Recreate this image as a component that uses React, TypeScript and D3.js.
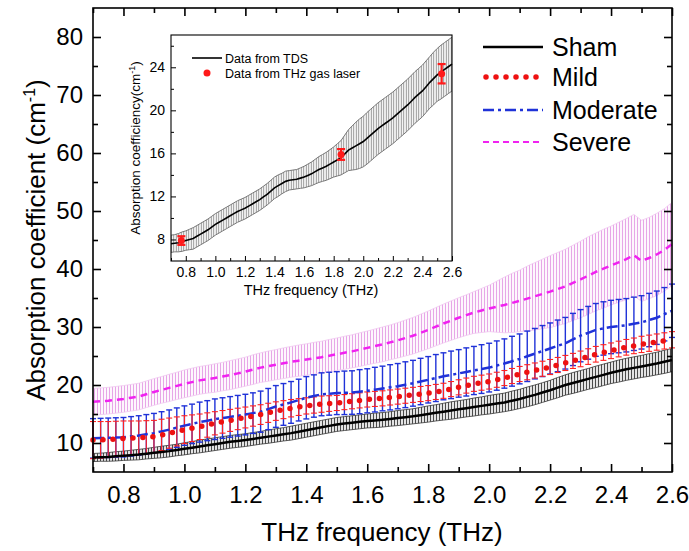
import { useEffect, useRef } from 'react';
import * as d3 from 'd3';

// frequency grid (THz)
const freq = [
  0.7, 0.725, 0.75, 0.775, 0.8, 0.825, 0.85, 0.875, 0.9, 0.925,
  0.95, 0.975, 1.0, 1.025, 1.05, 1.075, 1.1, 1.125, 1.15, 1.175,
  1.2, 1.225, 1.25, 1.275, 1.3, 1.325, 1.35, 1.375, 1.4, 1.425,
  1.45, 1.475, 1.5, 1.525, 1.55, 1.575, 1.6, 1.625, 1.65, 1.675,
  1.7, 1.725, 1.75, 1.775, 1.8, 1.825, 1.85, 1.875, 1.9, 1.925,
  1.95, 1.975, 2.0, 2.025, 2.05, 2.075, 2.1, 2.125, 2.15, 2.175,
  2.2, 2.225, 2.25, 2.275, 2.3, 2.325, 2.35, 2.375, 2.4, 2.425,
  2.45, 2.475, 2.5, 2.525, 2.55, 2.575, 2.6,
];

const shamMean = [
  7.5, 7.55, 7.6, 7.7, 7.8, 7.9, 8.0, 8.15, 8.3, 8.45,
  8.6, 8.8, 9.0, 9.2, 9.4, 9.6, 9.8, 10.0, 10.2, 10.35,
  10.5, 10.7, 10.9, 11.1, 11.3, 11.5, 11.7, 11.95, 12.2, 12.45,
  12.7, 12.95, 13.2, 13.35, 13.5, 13.65, 13.8, 13.9, 14.0, 14.15,
  14.3, 14.45, 14.6, 14.8, 15.0, 15.2, 15.4, 15.6, 15.8, 16.0,
  16.2, 16.4, 16.6, 16.8, 17.0, 17.3, 17.6, 17.95, 18.3, 18.7,
  19.1, 19.55, 20.0, 20.35, 20.7, 21.05, 21.4, 21.75, 22.1, 22.4,
  22.7, 22.95, 23.2, 23.45, 23.7, 24.0, 24.3,
];
const shamErr = [
  0.7, 0.7, 0.75, 0.8, 0.8, 0.85, 0.9, 0.9, 0.95, 1.0,
  1.0, 1.0, 1.05, 1.05, 1.1, 1.1, 1.1, 1.1, 1.1, 1.1,
  1.1, 1.1, 1.1, 1.15, 1.15, 1.15, 1.2, 1.2, 1.2, 1.2,
  1.2, 1.2, 1.2, 1.2, 1.2, 1.2, 1.2, 1.25, 1.25, 1.25,
  1.3, 1.3, 1.3, 1.35, 1.4, 1.4, 1.45, 1.5, 1.5, 1.5,
  1.55, 1.55, 1.6, 1.6, 1.6, 1.65, 1.65, 1.7, 1.7, 1.7,
  1.7, 1.75, 1.75, 1.8, 1.8, 1.8, 1.85, 1.85, 1.85, 1.9,
  1.9, 1.9, 1.9, 1.95, 1.95, 2.0, 2.0,
];

const mildMean = [
  10.5, 10.55, 10.6, 10.7, 10.8, 10.85, 10.9, 11.0, 11.1, 11.4,
  11.7, 12.0, 12.3, 12.55, 12.8, 13.1, 13.4, 13.65, 13.9, 14.15,
  14.4, 14.65, 14.9, 15.2, 15.5, 15.75, 16.0, 16.2, 16.4, 16.55,
  16.7, 16.8, 16.9, 17.05, 17.2, 17.35, 17.5, 17.6, 17.7, 17.85,
  18.0, 18.15, 18.3, 18.45, 18.6, 18.8, 19.0, 19.3, 19.6, 19.9,
  20.2, 20.4, 20.6, 20.9, 21.2, 21.55, 21.9, 22.2, 22.5, 22.8,
  23.1, 23.45, 23.8, 24.15, 24.5, 24.9, 25.3, 25.6, 25.9, 26.2,
  26.5, 26.75, 27.0, 27.2, 27.4, 27.6, 27.8,
];
const mildErr = [
  3.2, 3.15, 3.1, 3.05, 3.0, 2.95, 2.9, 2.85, 2.8, 2.7,
  2.6, 2.5, 2.4, 2.3, 2.2, 2.1, 2.0, 1.95, 1.9, 1.85,
  1.8, 1.75, 1.7, 1.65, 1.6, 1.55, 1.5, 1.45, 1.4, 1.4,
  1.4, 1.35, 1.3, 1.3, 1.3, 1.3, 1.3, 1.3, 1.3, 1.3,
  1.3, 1.3, 1.3, 1.3, 1.3, 1.3, 1.3, 1.3, 1.3, 1.3,
  1.3, 1.3, 1.3, 1.3, 1.3, 1.3, 1.3, 1.3, 1.3, 1.3,
  1.3, 1.3, 1.3, 1.3, 1.35, 1.35, 1.35, 1.35, 1.35, 1.35,
  1.35, 1.35, 1.4, 1.4, 1.4, 1.4, 1.4,
];

const moderateMean = [
  10.8, 10.85, 10.9, 10.95, 11.0, 11.15, 11.3, 11.5, 11.7, 12.0,
  12.3, 12.65, 13.0, 13.3, 13.6, 13.85, 14.1, 14.3, 14.5, 14.7,
  14.9, 15.15, 15.4, 15.85, 16.3, 16.65, 17.0, 17.4, 17.8, 18.1,
  18.4, 18.5, 18.6, 18.65, 18.7, 18.85, 19.0, 19.2, 19.4, 19.6,
  19.8, 20.05, 20.3, 20.6, 20.9, 21.2, 21.5, 21.75, 22.0, 22.25,
  22.5, 22.75, 23.0, 23.35, 23.7, 24.1, 24.5, 24.95, 25.4, 25.85,
  26.3, 26.75, 27.2, 27.85, 28.5, 29.0, 29.5, 29.75, 30.0, 30.15,
  30.3, 30.55, 30.8, 31.2, 31.6, 32.2, 32.8,
];
const moderateErr = [
  3.4, 3.4, 3.4, 3.4, 3.4, 3.4, 3.4, 3.4, 3.4, 3.4,
  3.4, 3.4, 3.4, 3.4, 3.45, 3.45, 3.5, 3.5, 3.5, 3.5,
  3.5, 3.5, 3.55, 3.55, 3.6, 3.6, 3.6, 3.6, 3.65, 3.65,
  3.7, 3.7, 3.7, 3.75, 3.75, 3.8, 3.8, 3.85, 3.85, 3.9,
  3.9, 3.95, 3.95, 4.0, 4.0, 4.05, 4.05, 4.1, 4.1, 4.15,
  4.15, 4.2, 4.2, 4.25, 4.25, 4.3, 4.3, 4.35, 4.35, 4.4,
  4.4, 4.45, 4.45, 4.5, 4.5, 4.55, 4.55, 4.6, 4.6, 4.6,
  4.6, 4.6, 4.6, 4.6, 4.6, 4.6, 4.6,
];

const severeMean = [
  17.1, 17.2, 17.3, 17.45, 17.6, 17.8, 18.0, 18.4, 18.8, 19.15,
  19.5, 19.85, 20.2, 20.5, 20.8, 21.0, 21.2, 21.45, 21.7, 22.0,
  22.3, 22.65, 23.0, 23.25, 23.5, 23.75, 24.0, 24.2, 24.4, 24.6,
  24.8, 25.05, 25.3, 25.55, 25.8, 26.1, 26.4, 26.7, 27.0, 27.35,
  27.7, 28.1, 28.5, 29.0, 29.5, 30.05, 30.6, 31.1, 31.6, 32.05,
  32.5, 32.85, 33.2, 33.5, 33.8, 34.15, 34.5, 34.9, 35.3, 35.7,
  36.1, 36.55, 37.0, 37.6, 38.2, 38.85, 39.5, 40.05, 40.6, 41.15,
  41.7, 42.4, 41.4, 41.9, 42.5, 43.3, 44.3,
];
const severeErr = [
  2.3, 2.3, 2.3, 2.3, 2.3, 2.3, 2.3, 2.3, 2.3, 2.3,
  2.35, 2.35, 2.4, 2.4, 2.4, 2.4, 2.45, 2.45, 2.5, 2.5,
  2.5, 2.55, 2.55, 2.6, 2.6, 2.65, 2.65, 2.7, 2.7, 2.75,
  2.75, 2.8, 2.8, 2.85, 2.85, 2.9, 2.9, 2.95, 3.0, 3.0,
  3.05, 3.1, 3.15, 3.2, 3.25, 3.3, 3.35, 3.4, 3.45, 3.5,
  3.6, 3.8, 4.0, 4.4, 4.8, 5.1, 5.3, 5.6, 5.8, 6.0,
  6.2, 6.3, 6.4, 6.5, 6.6, 6.7, 6.7, 6.8, 6.8, 6.9,
  7.0, 7.0, 7.0, 7.0, 7.1, 7.1, 7.2,
];

// inset: TDS curve and THz gas laser points
const tdsMean = [
  7.6, 7.65, 7.7, 7.8, 7.9, 8.0, 8.1, 8.3, 8.5, 8.7,
  8.9, 9.15, 9.4, 9.6, 9.8, 10.0, 10.2, 10.4, 10.6, 10.75,
  10.9, 11.1, 11.3, 11.5, 11.7, 11.95, 12.2, 12.5, 12.8, 13.0,
  13.2, 13.4, 13.5, 13.55, 13.6, 13.7, 13.8, 13.95, 14.1, 14.3,
  14.5, 14.65, 14.8, 15.0, 15.2, 15.4, 15.6, 15.95, 16.3, 16.5,
  16.7, 16.9, 17.1, 17.4, 17.7, 18.0, 18.3, 18.55, 18.8, 19.05,
  19.3, 19.6, 19.9, 20.2, 20.5, 20.85, 21.2, 21.5, 21.8, 22.2,
  22.6, 22.95, 23.3, 23.55, 23.8, 24.05, 24.3,
];
const tdsErr = [
  0.8, 0.8, 0.85, 0.9, 0.9, 0.95, 1.0, 1.0, 1.0, 1.0,
  1.0, 1.0, 1.0, 1.0, 1.0, 1.0, 1.0, 1.0, 1.0, 1.0,
  1.0, 1.0, 1.0, 1.0, 1.0, 1.0, 1.0, 1.0, 1.0, 1.0,
  0.95, 0.95, 0.9, 0.9, 0.9, 0.95, 1.0, 1.05, 1.1, 1.15,
  1.2, 1.25, 1.3, 1.35, 1.4, 1.5, 1.6, 1.75, 1.9, 2.05,
  2.2, 2.3, 2.35, 2.4, 2.4, 2.4, 2.4, 2.4, 2.4, 2.4,
  2.4, 2.4, 2.4, 2.4, 2.4, 2.4, 2.4, 2.4, 2.4, 2.4,
  2.4, 2.45, 2.45, 2.5, 2.5, 2.5, 2.5,
];
const laserFreq = [0.77, 1.85, 2.53];
const laserValue = [7.9, 15.9, 23.4];
const laserErr = [0.4, 0.5, 0.9];

const xTicks = [0.8, 1.0, 1.2, 1.4, 1.6, 1.8, 2.0, 2.2, 2.4, 2.6];
const xMinorTicks = [0.7, 0.9, 1.1, 1.3, 1.5, 1.7, 1.9, 2.1, 2.3, 2.5];
const yTicks = [10, 20, 30, 40, 50, 60, 70, 80];
const yMinorTicks = [15, 25, 35, 45, 55, 65, 75];
const insetYTicks = [8, 12, 16, 20, 24];
const insetYMinorTicks = [10, 14, 18, 22, 26];

const seriesNames = ['Sham', 'Mild', 'Moderate', 'Severe'];
const tdsLabel = 'Data from TDS';
const laserLabel = 'Data from THz gas laser';

const FONT = "Arial, 'Liberation Sans', Helvetica, sans-serif";

const App = () => {
  const svgRef = useRef<SVGSVGElement>(null);

  useEffect(() => {
    document.body.style.margin = '0';
    const svg = d3.select(svgRef.current);
    svg.selectAll('*').remove();

    const W = 689;
    const H = 551;
    svg.attr('width', W).attr('height', H).style('font-family', FONT);

    const x = d3.scaleLinear().domain([0.7, 2.6]).range([93, 672]);
    const y = d3.scaleLinear().domain([5, 85]).range([472, 8]);

    // Stripe patterns imitate the dense error bars
    const defs = svg.append('defs');
    const stripes = (id, color, step, sw) => {
      const p = defs
        .append('pattern')
        .attr('id', id)
        .attr('patternUnits', 'userSpaceOnUse')
        .attr('width', step)
        .attr('height', 20);
      p.append('line')
        .attr('x1', step / 2)
        .attr('x2', step / 2)
        .attr('y1', 0)
        .attr('y2', 20)
        .attr('stroke', color)
        .attr('stroke-width', sw);
    };
    stripes('sham-stripes', '#4a4a4a', 3, 1.3);
    stripes('severe-stripes', '#e7a6e7', 3, 1.2);
    stripes('tds-stripes', '#8a8a8a', 2.5, 1);

    const band = (mean, err, xs, ys) =>
      d3
        .area<number>()
        .x((_, i) => xs(freq[i]))
        .y0((d, i) => ys(d - err[i]))
        .y1((d, i) => ys(d + err[i]))(mean);

    const edge = (mean, err, sign, xs, ys) =>
      d3
        .line<number>()
        .x((_, i) => xs(freq[i]))
        .y((d, i) => ys(d + sign * err[i]))(mean);

    const line = (mean, xs, ys) =>
      d3
        .line<number>()
        .x((_, i) => xs(freq[i]))
        .y(d => ys(d))(mean);

    const plot = svg.append('g');

    // Severe band
    plot.append('path').attr('d', band(severeMean, severeErr, x, y)).attr('fill', 'url(#severe-stripes)');
    [1, -1].forEach(s =>
      plot.append('path').attr('d', edge(severeMean, severeErr, s, x, y))
        .attr('fill', 'none').attr('stroke', '#f0c8f0').attr('stroke-width', 0.8)
    );

    // Sham band
    plot.append('path').attr('d', band(shamMean, shamErr, x, y)).attr('fill', 'url(#sham-stripes)');
    [1, -1].forEach(s =>
      plot.append('path').attr('d', edge(shamMean, shamErr, s, x, y))
        .attr('fill', 'none').attr('stroke', '#333').attr('stroke-width', 0.8)
    );

    // Discrete error bars: Moderate, then Mild on top
    const errorBars = (mean, err, color, sw, cap) => {
      const g = plot.append('g').attr('stroke', color).attr('stroke-width', sw).attr('fill', 'none');
      mean.forEach((m, i) => {
        const cx = x(freq[i]);
        const y1 = y(m + err[i]);
        const y0 = y(m - err[i]);
        g.append('line').attr('x1', cx).attr('x2', cx).attr('y1', y1).attr('y2', y0);
        g.append('line').attr('x1', cx - cap).attr('x2', cx + cap).attr('y1', y1).attr('y2', y1);
        g.append('line').attr('x1', cx - cap).attr('x2', cx + cap).attr('y1', y0).attr('y2', y0);
      });
    };
    errorBars(moderateMean, moderateErr, '#1f32d8', 1.4, 3);
    errorBars(mildMean, mildErr, '#ff2222', 1.1, 3);

    // Mean lines
    plot.append('path').attr('d', line(shamMean, x, y))
      .attr('fill', 'none').attr('stroke', '#000').attr('stroke-width', 2.5);
    plot.append('path').attr('d', line(severeMean, x, y))
      .attr('fill', 'none').attr('stroke', '#f022f0').attr('stroke-width', 2.5)
      .attr('stroke-dasharray', '7 5');
    plot.append('path').attr('d', line(moderateMean, x, y))
      .attr('fill', 'none').attr('stroke', '#1f32d8').attr('stroke-width', 2.5)
      .attr('stroke-dasharray', '11 4 3 4');
    plot.append('path').attr('d', line(mildMean, x, y))
      .attr('fill', 'none').attr('stroke', '#ee1111').attr('stroke-width', 5.5)
      .attr('stroke-linecap', 'round').attr('stroke-dasharray', '0 10');

    // Frame and ticks
    svg.append('rect')
      .attr('x', 93).attr('y', 8).attr('width', 579).attr('height', 464)
      .attr('fill', 'none').attr('stroke', '#000').attr('stroke-width', 1.6);

    const styleAxis = (g, size) => {
      g.select('.domain').remove();
      g.selectAll('line').attr('stroke', '#000').attr('stroke-width', 1.6);
      g.selectAll('text').style('font-size', size).style('font-family', FONT).attr('fill', '#000');
    };

    const fmt = d3.format('.1f');
    svg.append('g').attr('transform', 'translate(0,472)')
      .call(d3.axisBottom(x).tickValues(xTicks).tickSize(-8).tickPadding(14).tickFormat(fmt))
      .call(g => styleAxis(g, '24px'));
    svg.append('g').attr('transform', 'translate(0,472)')
      .call(d3.axisBottom(x).tickValues(xMinorTicks).tickSize(-5).tickFormat(() => ''))
      .call(g => styleAxis(g, '24px'));
    svg.append('g').attr('transform', 'translate(0,8)')
      .call(d3.axisTop(x).tickValues(xTicks).tickSize(-8).tickFormat(() => ''))
      .call(g => styleAxis(g, '24px'));
    svg.append('g').attr('transform', 'translate(0,8)')
      .call(d3.axisTop(x).tickValues(xMinorTicks).tickSize(-5).tickFormat(() => ''))
      .call(g => styleAxis(g, '24px'));
    svg.append('g').attr('transform', 'translate(93,0)')
      .call(d3.axisLeft(y).tickValues(yTicks).tickSize(-8).tickPadding(10).tickFormat(d3.format('d')))
      .call(g => styleAxis(g, '24px'));
    svg.append('g').attr('transform', 'translate(93,0)')
      .call(d3.axisLeft(y).tickValues(yMinorTicks).tickSize(-5).tickFormat(() => ''))
      .call(g => styleAxis(g, '24px'));
    svg.append('g').attr('transform', 'translate(672,0)')
      .call(d3.axisRight(y).tickValues(yTicks).tickSize(-8).tickFormat(() => ''))
      .call(g => styleAxis(g, '24px'));
    svg.append('g').attr('transform', 'translate(672,0)')
      .call(d3.axisRight(y).tickValues(yMinorTicks).tickSize(-5).tickFormat(() => ''))
      .call(g => styleAxis(g, '24px'));

    // Axis titles
    svg.append('text')
      .attr('x', 382).attr('y', 541)
      .attr('text-anchor', 'middle').style('font-size', '26px')
      .text('THz frequency (THz)');

    const yTitle = svg.append('text')
      .attr('transform', 'translate(45,240) rotate(-90)')
      .attr('text-anchor', 'middle').style('font-size', '26px');
    yTitle.append('tspan').text('Absorption coefficient (cm');
    yTitle.append('tspan').attr('dy', -10).style('font-size', '16px').text('-1');
    yTitle.append('tspan').attr('dy', 10).text(')');

    // Main legend
    const legend = svg.append('g');
    const legendY = [47, 77, 110, 142];
    const legendStyles = [
      { stroke: '#000', width: 2.5, dash: null, cap: 'butt' },
      { stroke: '#ee1111', width: 5.5, dash: '0 10', cap: 'round' },
      { stroke: '#1f32d8', width: 2.5, dash: '11 4 3 4', cap: 'butt' },
      { stroke: '#f022f0', width: 2, dash: '6 4', cap: 'butt' },
    ];
    seriesNames.forEach((name, i) => {
      const st = legendStyles[i];
      legend.append('line')
        .attr('x1', i === 1 ? 486 : 483).attr('x2', 543)
        .attr('y1', legendY[i]).attr('y2', legendY[i])
        .attr('stroke', st.stroke).attr('stroke-width', st.width)
        .attr('stroke-linecap', st.cap)
        .attr('stroke-dasharray', st.dash);
      legend.append('text')
        .attr('x', 552).attr('y', legendY[i]).attr('dy', '0.36em')
        .style('font-size', '25px').text(name);
    });

    // ---------- Inset ----------
    const xi = d3.scaleLinear().domain([0.7, 2.6]).range([171, 452]);
    const yi = d3.scaleLinear().domain([6, 27]).range([261, 35]);

    const inset = svg.append('g');
    inset.append('rect')
      .attr('x', 171).attr('y', 35).attr('width', 281).attr('height', 226)
      .attr('fill', '#fff');
    inset.append('path').attr('d', band(tdsMean, tdsErr, xi, yi)).attr('fill', 'url(#tds-stripes)');
    [1, -1].forEach(s =>
      inset.append('path').attr('d', edge(tdsMean, tdsErr, s, xi, yi))
        .attr('fill', 'none').attr('stroke', '#777').attr('stroke-width', 1)
    );
    inset.append('path').attr('d', line(tdsMean, xi, yi))
      .attr('fill', 'none').attr('stroke', '#000').attr('stroke-width', 1.6);

    // gas laser points with error bars
    const laser = inset.append('g').attr('stroke', '#ff1a1a').attr('stroke-width', 2.2);
    laserFreq.forEach((f, i) => {
      const cx = xi(f);
      const top = yi(laserValue[i] + laserErr[i]);
      const bot = yi(laserValue[i] - laserErr[i]);
      laser.append('line').attr('x1', cx).attr('x2', cx).attr('y1', top).attr('y2', bot);
      laser.append('line').attr('x1', cx - 4).attr('x2', cx + 4).attr('y1', top).attr('y2', top);
      laser.append('line').attr('x1', cx - 4).attr('x2', cx + 4).attr('y1', bot).attr('y2', bot);
      laser.append('circle').attr('cx', cx).attr('cy', yi(laserValue[i])).attr('r', 3.5)
        .attr('fill', '#ff1a1a').attr('stroke', 'none');
    });

    inset.append('rect')
      .attr('x', 171).attr('y', 35).attr('width', 281).attr('height', 226)
      .attr('fill', 'none').attr('stroke', '#000').attr('stroke-width', 1.1);

    const styleInset = g => {
      g.select('.domain').remove();
      g.selectAll('line').attr('stroke', '#000').attr('stroke-width', 1);
      g.selectAll('text').style('font-size', '14px').style('font-family', FONT).attr('fill', '#000');
    };
    inset.append('g').attr('transform', 'translate(0,261)')
      .call(d3.axisBottom(xi).tickValues(xTicks).tickSize(-5).tickPadding(6).tickFormat(fmt))
      .call(styleInset);
    inset.append('g').attr('transform', 'translate(0,261)')
      .call(d3.axisBottom(xi).tickValues(xMinorTicks).tickSize(-3).tickFormat(() => ''))
      .call(styleInset);
    inset.append('g').attr('transform', 'translate(171,0)')
      .call(d3.axisLeft(yi).tickValues(insetYTicks).tickSize(-5).tickPadding(6).tickFormat(d3.format('d')))
      .call(styleInset);
    inset.append('g').attr('transform', 'translate(171,0)')
      .call(d3.axisLeft(yi).tickValues(insetYMinorTicks).tickSize(-3).tickFormat(() => ''))
      .call(styleInset);

    inset.append('text')
      .attr('x', 311).attr('y', 295)
      .attr('text-anchor', 'middle').style('font-size', '14.5px')
      .text('THz frequency (THz)');

    const iyTitle = inset.append('text')
      .attr('transform', 'translate(140,148) rotate(-90)')
      .attr('text-anchor', 'middle').style('font-size', '13.5px');
    iyTitle.append('tspan').text('Absorption coefficiency(cm');
    iyTitle.append('tspan').attr('dy', -5).style('font-size', '9px').text('-1');
    iyTitle.append('tspan').attr('dy', 5).text(')');

    // inset legend
    inset.append('line')
      .attr('x1', 192).attr('x2', 222).attr('y1', 58).attr('y2', 58)
      .attr('stroke', '#000').attr('stroke-width', 1.6);
    inset.append('text').attr('x', 225).attr('y', 58).attr('dy', '0.36em')
      .style('font-size', '12.5px').text(tdsLabel);
    inset.append('circle').attr('cx', 207).attr('cy', 73).attr('r', 3.5).attr('fill', '#ff1a1a');
    inset.append('text').attr('x', 225).attr('y', 73).attr('dy', '0.36em')
      .style('font-size', '12.5px').text(laserLabel);
  }, []);

  return (
    <div>
      <svg ref={svgRef} style={{ display: 'block' }}></svg>
    </div>
  );
};

export default App;
